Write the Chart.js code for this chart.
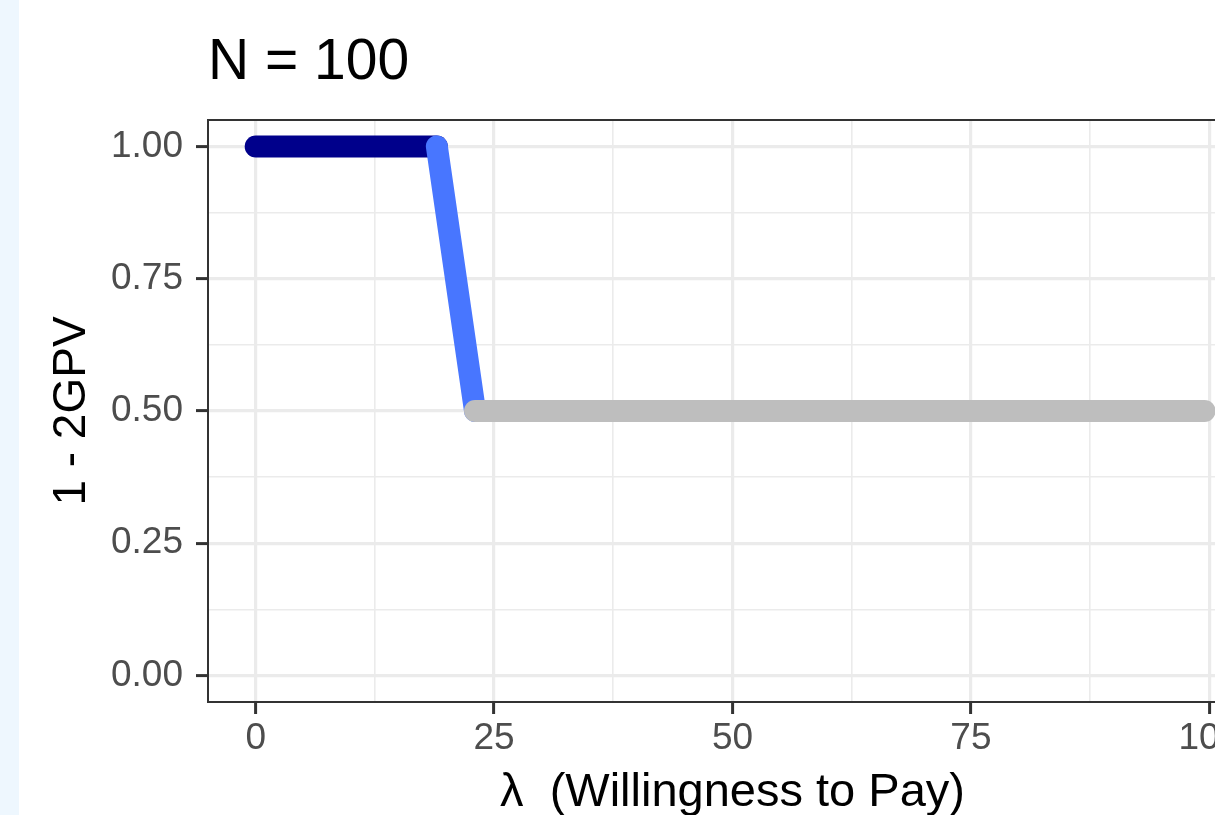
<!DOCTYPE html>
<html>
<head>
<meta charset="utf-8">
<script src="https://cdn.jsdelivr.net/npm/chart.js@4.4.1/dist/chart.umd.min.js"></script>
<style>
  html, body { margin: 0; padding: 0; overflow: hidden; background: #EEF7FE; }
  #wrap { position: absolute; left: 19px; top: 0; width: 1260px; height: 830px; background: #fff; }
</style>
</head>
<body>
<div id="wrap"><canvas id="myChart" width="1260" height="830"></canvas></div>
<script>
// segments of the curve: lambda (x) and 1 - 2GPV (y)
const lambdaHigh = [0, 19.0];
const gpvHigh = [1, 1];
const lambdaDrop = [19.0, 23.0];
const gpvDrop = [1, 0.5];
const lambdaLow = [23.0, 99.5];
const gpvLow = [0.5, 0.5];

const xTicks = [0, 25, 50, 75, 100];
const xMinor = [12.5, 37.5, 62.5, 87.5];
const yTicks = [0, 0.25, 0.5, 0.75, 1];
const yMinor = [0.125, 0.375, 0.625, 0.875];

const toPoints = (xs, ys) => xs.map((x, i) => ({x: x, y: ys[i]}));

Chart.defaults.font.family = "'Liberation Sans', Arial, sans-serif";

const panelBorder = {
  id: 'panelBorder',
  afterDatasetsDraw(chart) {
    const {ctx, chartArea} = chart;
    ctx.save();
    ctx.strokeStyle = '#333333';
    ctx.lineWidth = 2;
    ctx.strokeRect(chartArea.left, chartArea.top,
      chartArea.right - chartArea.left, chartArea.bottom - chartArea.top);
    ctx.restore();
  }
};

const lineStyle = {
  borderWidth: 22,
  borderCapStyle: 'round',
  borderJoinStyle: 'round',
  pointRadius: 0,
  fill: false,
  tension: 0
};

const gridFor = (majors) => ({
  color: '#EBEBEB',
  lineWidth: (c) => majors.includes(c.tick.value) ? 3.2 : 1.6,
  tickColor: (c) => majors.includes(c.tick.value) ? '#333333' : 'rgba(0,0,0,0)',
  tickWidth: 3,
  tickLength: 12,
  drawTicks: true
});

const ctx = document.getElementById('myChart');

const myChart = new Chart(ctx, {
  type: 'line',
  data: {
    datasets: [
      {data: toPoints(lambdaLow, gpvLow), borderColor: '#BEBEBE', order: 1, ...lineStyle},
      {data: toPoints(lambdaDrop, gpvDrop), borderColor: '#4876FF', order: 2, ...lineStyle},
      {data: toPoints(lambdaHigh, gpvHigh), borderColor: '#00008B', order: 3, ...lineStyle}
    ]
  },
  options: {
    responsive: false,
    animation: false,
    layout: {padding: {left: 0, right: 22, top: 0, bottom: 0}},
    plugins: {
      legend: {display: false},
      tooltip: {enabled: false},
      title: {
        display: true,
        text: 'N = 100',
        align: 'start',
        fullSize: false,
        color: '#000000',
        font: {size: 57, weight: 'normal'},
        padding: {top: 29.3, bottom: 22.3}
      }
    },
    scales: {
      x: {
        type: 'linear',
        min: -5,
        max: 105,
        afterBuildTicks: (scale) => {
          scale.ticks = xTicks.concat(xMinor).sort((a, b) => a - b).map(v => ({value: v}));
        },
        afterFit: (scale) => { scale.height = 128; },
        border: {display: false},
        grid: gridFor(xTicks),
        ticks: {
          autoSkip: false,
          maxRotation: 0,
          padding: 3,
          color: '#4D4D4D',
          font: {size: 37},
          callback: (v) => xTicks.includes(v) ? String(v) : ''
        },
        title: {
          display: true,
          text: 'λ  (Willingness to Pay)',
          color: '#000000',
          font: {size: 47},
          padding: {top: 0, bottom: 9}
        }
      },
      y: {
        type: 'linear',
        min: -0.05,
        max: 1.05,
        afterBuildTicks: (scale) => {
          scale.ticks = yTicks.concat(yMinor).sort((a, b) => a - b).map(v => ({value: v}));
        },
        afterFit: (scale) => { scale.width = 189; },
        border: {display: false},
        grid: gridFor(yTicks),
        ticks: {
          autoSkip: false,
          padding: 13,
          color: '#4D4D4D',
          font: {size: 37},
          callback: (v) => yTicks.includes(v) ? v.toFixed(2) : ''
        },
        title: {
          display: true,
          text: '1 - 2GPV',
          color: '#000000',
          font: {size: 46},
          padding: {top: 26, bottom: 0}
        }
      }
    }
  },
  plugins: [panelBorder]
});
</script>
</body>
</html>
